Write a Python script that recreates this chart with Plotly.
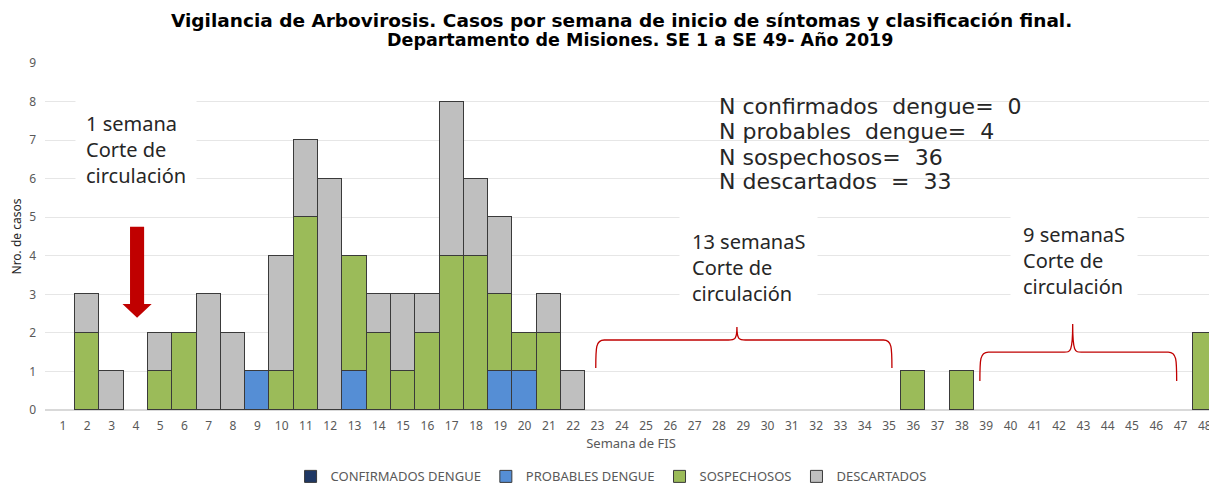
import plotly.graph_objects as go

weeks = list(range(1, 49))
confirmados = [None] * 48
probables_weeks = {9: 1, 13: 1, 19: 1, 20: 1}
sospechosos_weeks = {2: 2, 5: 1, 6: 2, 10: 1, 11: 5, 13: 3, 14: 2, 15: 1, 16: 2,
                     17: 4, 18: 4, 19: 2, 20: 1, 21: 2, 36: 1, 38: 1, 48: 2}
descartados_weeks = {2: 1, 3: 1, 5: 1, 7: 3, 8: 2, 10: 3, 11: 2, 12: 6, 14: 1,
                     15: 2, 16: 1, 17: 4, 18: 2, 19: 2, 21: 1, 22: 1}
probables = [probables_weeks.get(w) for w in weeks]
sospechosos = [sospechosos_weeks.get(w) for w in weeks]
descartados = [descartados_weeks.get(w) for w in weeks]

series = [
    ("CONFIRMADOS DENGUE", confirmados, "#1F3864"),
    ("PROBABLES DENGUE", probables, "#558ED5"),
    ("SOSPECHOSOS", sospechosos, "#9BBB59"),
    ("DESCARTADOS", descartados, "#BFBFBF"),
]

title_lines = ["Vigilancia de Arbovirosis. Casos por semana de inicio de síntomas y clasificación final.",
               "Departamento de Misiones. SE 1 a SE 49- Año 2019"]
summary_lines = ["N confirmados&nbsp; dengue=&nbsp; 0", "N probables&nbsp; dengue=&nbsp; 4",
                 "N sospechosos=&nbsp; 36", "N descartados&nbsp; =&nbsp; 33"]

fig = go.Figure()
for name, vals, col in series:
    fig.add_trace(go.Bar(x=weeks, y=vals, name=name,
                         marker=dict(color=col, line=dict(color="#3a3a3a", width=1))))

txt_font = dict(family="Noto Sans, Open Sans, sans-serif", size=20, color="#262626")
n_font = dict(family="DejaVu Sans, sans-serif", size=22, color="#262626")

# title (two lines placed separately)
for txt, xp, yp, fs in zip(title_lines, [0.4915, 0.5077], [1.1225, 1.0663], [18.5, 17.5]):
    fig.add_annotation(x=xp, y=yp, xref="paper", yref="paper", xanchor="center", yanchor="middle",
                       text=f"<b>{txt}</b>", showarrow=False, borderpad=0,
                       font=dict(family="DejaVu Sans, sans-serif", size=fs, color="#000000"))

fig.add_annotation(x=0.026, y=6.744, xref="paper", yref="y", xanchor="left", yanchor="middle",
                   text="1 semana<br>Corte de<br>circulación", showarrow=False, align="left",
                   font=txt_font, bgcolor="white", borderpad=10)
for txt, yv in zip(summary_lines, [7.859, 7.211, 6.562, 5.914]):
    fig.add_annotation(x=0.573, y=yv, xref="paper", yref="y", xanchor="left", yanchor="middle",
                       text=txt, showarrow=False, align="left", font=n_font)
fig.add_annotation(x=0.541, y=3.684, xref="paper", yref="y", xanchor="left", yanchor="middle",
                   text="13 semanaS<br>Corte de<br>circulación", showarrow=False, align="left",
                   font=txt_font, bgcolor="white", borderpad=12)
fig.add_annotation(x=0.823, y=3.878, xref="paper", yref="y", xanchor="left", yanchor="middle",
                   text="9 semanaS<br>Corte de<br>circulación", showarrow=False, align="left",
                   font=txt_font, bgcolor="white", borderpad=12)

# red arrow
ax, at, ab, ah, hw, sw = 4.05, 4.75, 2.39, 2.75, 0.6, 0.29
fig.add_shape(type="path", xref="x", yref="y",
              path=f"M {ax-sw} {at} L {ax+sw} {at} L {ax+sw} {ah} L {ax+hw} {ah} L {ax} {ab} "
                   f"L {ax-hw} {ah} L {ax-sw} {ah} Z",
              fillcolor="#C00000", line=dict(width=0))

def brace(x0, x1, xm, yb, ye, yp):
    r = 0.35
    return (f"M {x0} {ye} C {x0} {yb-0.2}, {x0} {yb}, {x0+r} {yb} L {xm-r} {yb} "
            f"C {xm-0.1} {yb}, {xm} {yb}, {xm} {yp} C {xm} {yb}, {xm+0.1} {yb}, {xm+r} {yb} "
            f"L {x1-r} {yb} C {x1} {yb}, {x1} {yb-0.2}, {x1} {ye}")

fig.add_shape(type="path", xref="x", yref="y", path=brace(22.93, 35.12, 28.74, 1.815, 1.09, 2.15),
              line=dict(color="#C00000", width=1.3))
fig.add_shape(type="path", xref="x", yref="y", path=brace(38.74, 46.84, 42.56, 1.50, 0.75, 2.23),
              line=dict(color="#C00000", width=1.3))

fig.update_layout(
    barmode="stack", bargap=0,
    width=1209, height=478,
    margin=dict(l=37, r=0, t=55, b=76),
    paper_bgcolor="white", plot_bgcolor="white",
    font=dict(family="Noto Sans, Open Sans, sans-serif", color="#595959"),
    xaxis=dict(range=[0.26, 48.5], tickmode="array", tickvals=weeks, ticktext=[str(w) for w in weeks],
               showgrid=False, zeroline=False, showline=False, ticks="", ticklabelstandoff=7,
               tickfont=dict(size=12, color="#595959"),
               title=dict(text="Semana de FIS", font=dict(size=13, color="#595959"), standoff=0)),
    yaxis=dict(range=[0, 9], dtick=1, showgrid=True, gridcolor="#E6E6E6", gridwidth=1,
               zeroline=True, zerolinecolor="#D9D9D9", ticks="", showline=False, ticklabelstandoff=8,
               tickfont=dict(size=12, color="#595959"),
               title=dict(text="Nro. de casos", font=dict(size=12, color="#262626"), standoff=5)),
    legend=dict(orientation="h", x=0.483, xanchor="center", xref="paper",
                y=0.02, yanchor="middle", yref="container",
                font=dict(size=13, color="#595959"), traceorder="normal", itemwidth=30),
    showlegend=True,
)

fig.write_html("out.html")
